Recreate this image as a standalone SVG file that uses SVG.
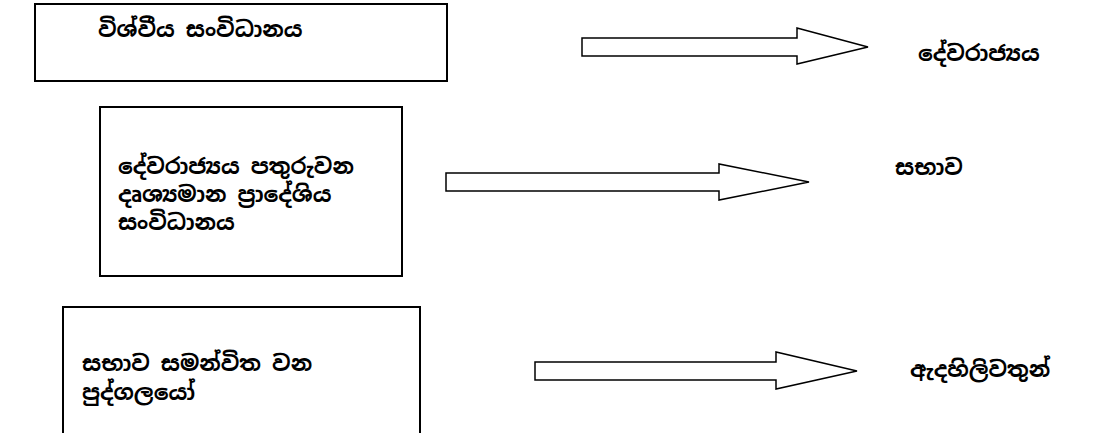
<svg xmlns="http://www.w3.org/2000/svg" width="1110" height="433" viewBox="0 0 1110 433">
<style>
.box{fill:#fff;stroke:#000;stroke-width:2}
.arr{fill:#fff;stroke:#000;stroke-width:1.5;stroke-linejoin:miter}
text{font-family:"Noto Sans Sinhala","Noto Sans","DejaVu Sans",sans-serif;font-size:22px;font-weight:bold;fill:#000}
</style>
<rect width="1110" height="433" fill="#fff"/>
<g id="node-1">
<rect class="box" x="35" y="4" width="412" height="77"/>
<text x="98" y="37">විශ්වීය සංවිධානය</text>
</g>
<g id="node-2">
<rect class="box" x="100" y="107" width="302" height="169"/>
<text x="118" y="174">දේවරාජ්‍යය පතුරුවන</text>
<text x="118" y="202">දෘශ්‍යමාන ප්‍රාදේශිය</text>
<text x="118" y="230">සංවිධානය</text>
</g>
<g id="node-3">
<rect class="box" x="63" y="307" width="357" height="140"/>
<text x="82" y="371">සභාව සමන්විත වන</text>
<text x="82" y="400">පුද්ගලයෝ</text>
</g>
<g id="label-1"><text x="918" y="61">දේවරාජ්‍යය</text></g>
<g id="label-2"><text x="895" y="175">සභාව</text></g>
<g id="label-3"><text x="910" y="377">ඇදහිලිවතුන්</text></g>
<g id="connectors">
<polygon class="arr" points="582,38 797,38 797,28 868,47 797,64 797,56 582,56"/>
<polygon class="arr" points="446,173 719,173 719,164 809,182 719,200 719,191 446,191"/>
<polygon class="arr" points="535,362 776,362 776,352 857,371 776,389 776,380 535,380"/>
</g>
</svg>
